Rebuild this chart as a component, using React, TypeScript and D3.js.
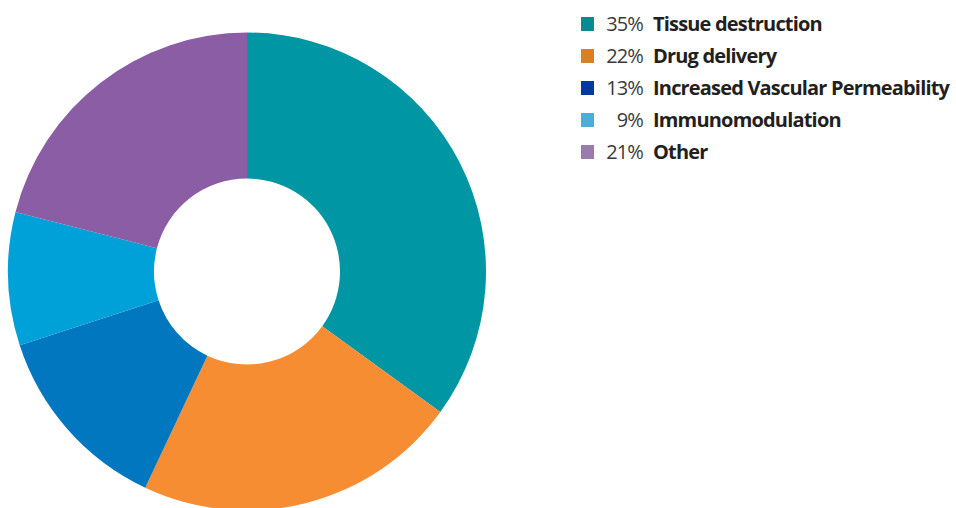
import React from "react";
import * as d3 from "d3";

const categories = ["Tissue destruction", "Drug delivery", "Increased Vascular Permeability", "Immunomodulation", "Other"];
const values = [35, 22, 13, 9, 21];
const sliceColors = ["#0096A4", "#F68D33", "#0077BE", "#00A0D8", "#8B5DA5"];
const legendColors = ["#0A8A93", "#D97F25", "#0038A0", "#4AAED9", "#9A7BAE"];

export default function App() {
  const W = 956, H = 508;
  const cx = 247, cy = 271.5, R = 239, r = 93;
  const pie = d3.pie<number>().sort(null).value((d) => d);
  const arcs = pie(values);
  const arc = d3.arc<d3.PieArcDatum<number>>().innerRadius(r).outerRadius(R);
  const rowY = d3.scaleLinear().domain([0, 1]).range([24, 56]);
  return (
    <svg width={W} height={H} style={{ position: "absolute", left: 0, top: 0 }}>
      <rect width={W} height={H} fill="#fff" />
      <g transform={`translate(${cx},${cy})`}>
        {arcs.map((a, i) => (
          <path key={i} d={arc(a) || ""} fill={sliceColors[i]} />
        ))}
      </g>
      <g fontFamily="'Open Sans', sans-serif">
        {categories.map((c, i) => {
          const y = rowY(i);
          return (
            <g key={c}>
              <rect x={581} y={y - 7} width={13} height={14} fill={legendColors[i]} />
              <text x={643} y={y + 7} textAnchor="end" fontSize={20} fill="#3a3a3a" letterSpacing={-0.9}>
                {values[i]}%
              </text>
              <text x={653} y={y + 7} fontSize={20} fontWeight={700} fill="#231F20" letterSpacing={-0.82}>
                {c}
              </text>
            </g>
          );
        })}
      </g>
    </svg>
  );
}
